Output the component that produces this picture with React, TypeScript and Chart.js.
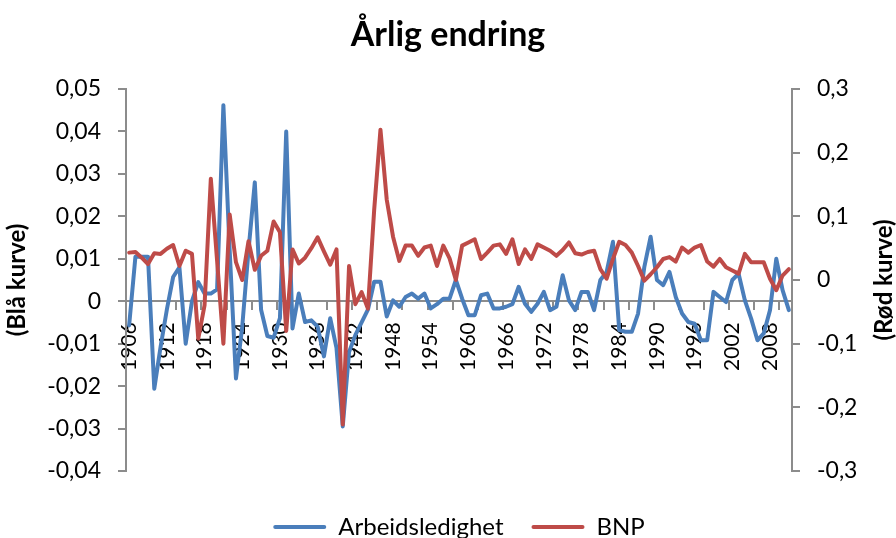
import React, { useEffect, useRef } from 'react';
import { Chart, registerables } from 'chart.js';

Chart.register(...registerables);

const FIRST_YEAR = 1906;
const LAST_YEAR = 2011;
const years: string[] = [];
for (let y = FIRST_YEAR; y <= LAST_YEAR; y++) years.push(String(y));

const arbeidsledighet = [
  -0.0057, 0.0105, 0.0105, 0.0105, -0.0206, -0.0108, -0.002, 0.0057, 0.008, -0.010,
  0.000, 0.0045, 0.0018, 0.0018, 0.0028, 0.0462, 0.012, -0.0182, -0.006, 0.012,
  0.028, -0.002, -0.0082, -0.0086, -0.004, 0.040, -0.0064, 0.0018, -0.0049, -0.0045,
  -0.006, -0.013, -0.004, -0.011, -0.0295, -0.012, -0.008, -0.005, -0.002, 0.0046,
  0.0046, -0.0036, 0.0002, -0.0013, 0.001, 0.0018, 0.0006, 0.0018, -0.0017, -0.0007,
  0.0006, 0.0006, 0.005, 0.0006, -0.0033, -0.0033, 0.0014, 0.0018, -0.0017, -0.0017,
  -0.0013, -0.0007, 0.0034, -0.0006, -0.0025, -0.0006, 0.0022, -0.0021, -0.0013, 0.0061,
  0.0002, -0.0021, 0.0022, 0.0022, -0.0021, 0.005, 0.0069, 0.014, -0.0068, -0.0072,
  -0.0072, -0.0029, 0.0081, 0.0152, 0.005, 0.0038, 0.0069, 0.001, -0.0029, -0.0049,
  -0.0053, -0.0092, -0.0092, 0.0022, 0.001, -0.0002, 0.005, 0.0065, 0.0002, -0.0041,
  -0.0092, -0.0076, -0.0021, 0.010, 0.0026, -0.0021,
];

const bnp = [
  0.043, 0.044, 0.035, 0.025, 0.042, 0.041, 0.049, 0.055, 0.022, 0.046,
  0.041, -0.092, -0.040, 0.159, 0.03, -0.10, 0.103, 0.028, 0.0, 0.061,
  0.016, 0.038, 0.046, 0.092, 0.075, -0.080, 0.048, 0.026, 0.035, 0.05,
  0.067, 0.045, 0.024, 0.048, -0.227, 0.022, -0.038, -0.019, -0.045, 0.11,
  0.236, 0.126, 0.068, 0.030, 0.054, 0.054, 0.038, 0.051, 0.054, 0.022,
  0.054, 0.034, 0.0, 0.054, 0.059, 0.064, 0.033, 0.043, 0.054, 0.056,
  0.041, 0.064, 0.025, 0.048, 0.033, 0.056, 0.051, 0.046, 0.038, 0.047,
  0.059, 0.042, 0.040, 0.044, 0.046, 0.017, 0.002, 0.033, 0.060, 0.055,
  0.043, 0.022, -0.001, 0.009, 0.020, 0.033, 0.036, 0.029, 0.051, 0.043,
  0.051, 0.055, 0.029, 0.021, 0.033, 0.020, 0.015, 0.010, 0.041, 0.028,
  0.028, 0.028, 0.002, -0.016, 0.007, 0.017,
];

const TITLE = 'Årlig endring';
const LEFT_TITLE = '(Blå kurve)';
const RIGHT_TITLE = '(Rød kurve)';
const SERIES_NAMES = ['Arbeidsledighet', 'BNP'];
const LABEL_EVERY = 6;
const TICK_EVERY = 4;

const BLUE = '#4A7EBB';
const RED = '#BE4B48';
const AXIS = '#8c8c8c';
const FONT = 'Lato';

function fmt(v: number, digits: number): string {
  if (Math.abs(v) < 1e-9) return '0';
  return v.toFixed(digits).replace('.', ',');
}

export default function App() {
  const ref = useRef<HTMLCanvasElement | null>(null);

  useEffect(() => {
    if (!ref.current) return;

    const legendFit = {
      id: 'legendFit',
      beforeInit(chart: any) {
        const orig = chart.legend.fit;
        chart.legend.fit = function () {
          orig.call(this);
          this.height = 51;
        };
      },
    };

    const rightTitle = {
      id: 'rightTitle',
      afterDraw(chart: any) {
        const ctx = chart.ctx;
        const area = chart.chartArea;
        ctx.save();
        ctx.translate(884, (area.top + area.bottom) / 2);
        ctx.rotate(-Math.PI / 2);
        ctx.font = `bold 24px ${FONT}`;
        ctx.fillStyle = '#000';
        ctx.textAlign = 'center';
        ctx.textBaseline = 'middle';
        ctx.fillText(RIGHT_TITLE, 0, 0);
        ctx.restore();
      },
    };

    const chart = new Chart(ref.current, {
      type: 'line',
      data: {
        labels: years,
        datasets: [
          {
            label: SERIES_NAMES[0],
            data: arbeidsledighet,
            yAxisID: 'y',
            borderColor: BLUE,
            backgroundColor: BLUE,
            borderWidth: 4,
            pointRadius: 0,
            pointHoverRadius: 0,
            tension: 0,
            borderJoinStyle: 'round',
            borderCapStyle: 'round',
            order: 1,
          },
          {
            label: SERIES_NAMES[1],
            data: bnp,
            yAxisID: 'y1',
            borderColor: RED,
            backgroundColor: RED,
            borderWidth: 4,
            pointRadius: 0,
            pointHoverRadius: 0,
            tension: 0,
            borderJoinStyle: 'round',
            borderCapStyle: 'round',
            order: 0,
          },
        ],
      },
      options: {
        responsive: false,
        animation: false,
        layout: { padding: 0 },
        plugins: {
          title: {
            display: true,
            text: TITLE,
            color: '#000',
            font: { family: FONT, size: 34, weight: 'bold' },
            padding: { top: 14.8, bottom: 33.4 },
          },
          subtitle: {
            display: true,
            position: 'bottom',
            weight: 500,
            text: '',
            font: { family: FONT, size: 10 },
            padding: { top: 4, bottom: 0 },
          },
          legend: {
            display: true,
            position: 'bottom',
            fullSize: false,
            labels: {
              color: '#000',
              font: { family: FONT, size: 24 },
              boxWidth: 53,
              boxHeight: 4,
              padding: 28,
              useBorderRadius: true,
              borderRadius: 2,
              sort: (a: any, b: any) => a.datasetIndex - b.datasetIndex,
              generateLabels: (chart: any) => {
                const items = Chart.defaults.plugins.legend.labels.generateLabels(chart);
                return items.map((it: any) => ({ ...it, lineWidth: 0, fillStyle: it.strokeStyle }));
              },
            },
          },
          tooltip: { enabled: false },
        },
        scales: {
          x: {
            type: 'category',
            position: { y: 0 },
            offset: true,
            grid: {
              offset: true,
              drawOnChartArea: false,
              drawTicks: true,
              tickLength: 8,
              lineWidth: 2,
              color: (ctx: any) => (typeof ctx.index === 'number' && ctx.index % TICK_EVERY === 0 ? AXIS : 'rgba(0,0,0,0)'),
            },
            border: { display: true, color: AXIS, width: 2 },
            ticks: {
              autoSkip: false,
              maxRotation: 90,
              minRotation: 90,
              padding: 13,
              color: '#000',
              font: { family: FONT, size: 21 },
              callback: function (this: any, _v: any, idx: number) {
                return idx % LABEL_EVERY === 0 ? years[idx] : '';
              },
            },
          },
          y: {
            type: 'linear',
            position: 'left',
            min: -0.04,
            max: 0.05,
            grid: { drawOnChartArea: false, drawTicks: true, tickLength: 8, color: AXIS, lineWidth: 2 },
            border: { display: true, color: AXIS, width: 2 },
            ticks: {
              stepSize: 0.01,
              padding: 17,
              color: '#000',
              font: { family: FONT, size: 23 },
              callback: (v: any) => fmt(Number(v), 2),
            },
            title: {
              display: true,
              text: LEFT_TITLE,
              color: '#000',
              font: { family: FONT, size: 24, weight: 'bold' },
              padding: { top: 3, bottom: 0 },
            },
            afterFit: (s: any) => {
              s.width = 126;
            },
          },
          y1: {
            type: 'linear',
            position: 'right',
            min: -0.3,
            max: 0.3,
            grid: { drawOnChartArea: false, drawTicks: true, tickLength: 8, color: AXIS, lineWidth: 2 },
            border: { display: true, color: AXIS, width: 2 },
            ticks: {
              stepSize: 0.1,
              padding: 17,
              color: '#000',
              font: { family: FONT, size: 23 },
              callback: (v: any) => fmt(Number(v), 1),
            },
            afterFit: (s: any) => {
              s.width = 104;
            },
          },
        },
      } as any,
      plugins: [legendFit, rightTitle],
    });

    return () => chart.destroy();
  }, []);

  return (
    <div style={{ position: 'absolute', left: 0, top: 0, width: 896, height: 538, background: '#fff' }}>
      <canvas ref={ref} width={896} height={538} style={{ display: 'block' }} />
    </div>
  );
}
